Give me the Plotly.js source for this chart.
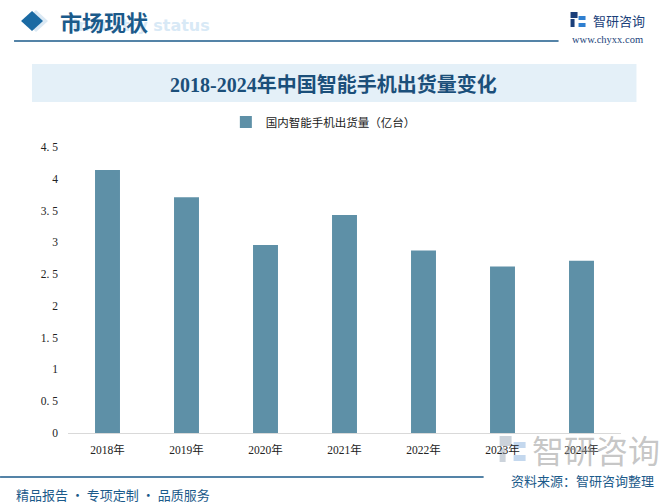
<!DOCTYPE html>
<html>
<head>
<meta charset="utf-8">
<script src="https://cdn.plot.ly/plotly-3.0.1.min.js"></script>
<style>
html,body{margin:0;padding:0;background:#fff;}
#chart{width:670px;height:504px;}
</style>
</head>
<body>
<div id="chart"></div>
<script>
// ---- data ----
const categories = ['2018年','2019年','2020年','2021年','2022年','2023年','2024年'];
const shipments = [4.14, 3.71, 2.96, 3.43, 2.87, 2.62, 2.71];
const seriesName = '国内智能手机出货量（亿台）';
const yTickVals = [0, 0.5, 1, 1.5, 2, 2.5, 3, 3.5, 4, 4.5];
const yTickText = ['0', '0. 5', '1', '1. 5', '2', '2. 5', '3', '3. 5', '4', '4. 5'];
const chartTitle = '2018-2024年中国智能手机出货量变化';
const headerText = '市场现状';
const headerSub = 'Industry status';
const brandText = '智研咨询';
const siteText = 'www.chyxx.com';
const sourceText = '资料来源：智研咨询整理';
const footerText = '精品报告 · 专项定制 · 品质服务';

// ---- geometry helpers (pixel -> paper) ----
const W = 670, H = 504;
const L = 68, R = 621.5, T = 147, B = 433;
const px = x => (x - L) / (R - L);
const py = y => (B - y) / (B - T);

const CJK = 'Noto Sans CJK SC, sans-serif';
const SERIF = 'Liberation Serif, DejaVu Serif, Noto Sans CJK SC, serif';
const BLUE = '#1b5a8a';

const trace = {
  type: 'bar',
  x: categories,
  y: shipments,
  name: seriesName,
  marker: {color: '#5e90a7'},
  hoverinfo: 'x+y'
};

const shapes = [
  // header faint diamond
  {type:'path', xref:'paper', yref:'paper', layer:'below',
   path:`M ${px(36)} ${py(10)} L ${px(48)} ${py(21)} L ${px(36)} ${py(32)} L ${px(24)} ${py(21)} Z`,
   fillcolor:'#dbe9f4', line:{width:0}},
  // header diamond
  {type:'path', xref:'paper', yref:'paper',
   path:`M ${px(32)} ${py(11)} L ${px(43)} ${py(21)} L ${px(32)} ${py(31)} L ${px(21)} ${py(21)} Z`,
   fillcolor:'#1a6aa3', line:{width:0}},
  // header line
  {type:'line', xref:'paper', yref:'paper', x0:px(14), x1:px(559), y0:py(41), y1:py(41),
   line:{color:'#1b5a8a', width:1.5}},
  // logo icon
  {type:'rect', xref:'paper', yref:'paper', x0:px(571), x1:px(578), y0:py(12), y1:py(18),
   fillcolor:'#1b3f7a', line:{width:0}},
  {type:'rect', xref:'paper', yref:'paper', x0:px(571), x1:px(575), y0:py(19), y1:py(27),
   fillcolor:'#1b3f7a', line:{width:0}},
  {type:'rect', xref:'paper', yref:'paper', x0:px(579), x1:px(586), y0:py(16), y1:py(20),
   fillcolor:'#2f7fd0', line:{width:0}},
  {type:'rect', xref:'paper', yref:'paper', x0:px(579), x1:px(586), y0:py(23), y1:py(27),
   fillcolor:'#2f7fd0', line:{width:0}},
  // title band
  {type:'rect', xref:'paper', yref:'paper', layer:'below',
   x0:px(32), x1:px(637), y0:py(64), y1:py(102),
   fillcolor:'#e4f0f8', line:{width:0}},
  // watermark logo bottom-right
  {type:'rect', xref:'paper', yref:'paper', layer:'below', x0:px(500), x1:px(512), y0:py(436), y1:py(446),
   fillcolor:'#ccd3db', line:{width:0}},
  {type:'rect', xref:'paper', yref:'paper', layer:'below', x0:px(500), x1:px(506), y0:py(448), y1:py(462),
   fillcolor:'#ccd3db', line:{width:0}},
  {type:'rect', xref:'paper', yref:'paper', layer:'below', x0:px(514), x1:px(526), y0:py(442), y1:py(448),
   fillcolor:'#c4d8ee', line:{width:0}},
  {type:'rect', xref:'paper', yref:'paper', layer:'below', x0:px(514), x1:px(526), y0:py(455), y1:py(461),
   fillcolor:'#c4d8ee', line:{width:0}},
  // footer line
  {type:'line', xref:'paper', yref:'paper', x0:px(0), x1:px(484), y0:py(477), y1:py(477),
   line:{color:'#1b5a8a', width:1.5}}
];

const annotations = [
  {text: headerSub, xref:'paper', yref:'paper', x:px(70), y:py(26), xanchor:'left', yanchor:'middle',
   showarrow:false, font:{family:'DejaVu Sans, sans-serif', size:16, color:'#d8e9f6', weight:'bold'}},
  {text: headerText, xref:'paper', yref:'paper', x:px(58), y:py(21), xanchor:'left', yanchor:'middle',
   showarrow:false, font:{family:CJK, size:22, color:'#1b5a8a', weight:'bold'}},
  {text: brandText, xref:'paper', yref:'paper', x:px(591), y:py(20), xanchor:'left', yanchor:'middle',
   showarrow:false, font:{family:CJK, size:13, color:'#1b3f7a'}},
  {text: siteText, xref:'paper', yref:'paper', x:px(608), y:py(40), xanchor:'center', yanchor:'middle',
   showarrow:false, font:{family:SERIF, size:10.5, color:'#1b3f7a'}},
  {text: chartTitle, xref:'paper', yref:'paper', x:px(334), y:py(84), xanchor:'center', yanchor:'middle',
   showarrow:false, font:{family:SERIF, size:20, color:'#1b4f7a', weight:'bold'}},
  {text: brandText, xref:'paper', yref:'paper', x:px(530), y:py(449), xanchor:'left', yanchor:'middle',
   showarrow:false, font:{family:CJK, size:32, color:'rgba(150,150,150,0.55)'}},
  {text: sourceText, xref:'paper', yref:'paper', x:px(657), y:py(480), xanchor:'right', yanchor:'middle',
   showarrow:false, font:{family:CJK, size:13, color:BLUE}},
  {text: footerText, xref:'paper', yref:'paper', x:px(14), y:py(494), xanchor:'left', yanchor:'middle',
   showarrow:false, font:{family:CJK, size:13, color:BLUE}}
];

const layout = {
  width: W, height: H,
  margin: {l: L, r: W - R, t: T, b: H - B, pad: 0},
  paper_bgcolor: '#ffffff',
  plot_bgcolor: 'rgba(0,0,0,0)',
  bargap: 0.684,
  showlegend: true,
  legend: {orientation:'h', x:px(226), xanchor:'left', y:py(122), yanchor:'middle',
           font:{family:CJK, size:11.5, color:'#222'}, bgcolor:'rgba(0,0,0,0)',
           itemwidth:30},
  xaxis: {
    type: 'category',
    showline: true, linecolor: '#d9d9d9', linewidth: 1,
    ticks: '', showgrid: false, zeroline: false,
    tickfont: {family: SERIF, size: 11.5, color: '#222'},
    ticklabelstandoff: 6
  },
  yaxis: {
    range: [0, 4.5],
    tickvals: yTickVals, ticktext: yTickText,
    showgrid: false, zeroline: false, showline: false, ticks: '',
    tickfont: {family: SERIF, size: 11.5, color: '#222'},
    ticklabelstandoff: 9
  },
  shapes: shapes,
  annotations: annotations
};

Plotly.newPlot('chart', [trace], layout, {displayModeBar: false, staticPlot: true});
</script>
</body>
</html>
